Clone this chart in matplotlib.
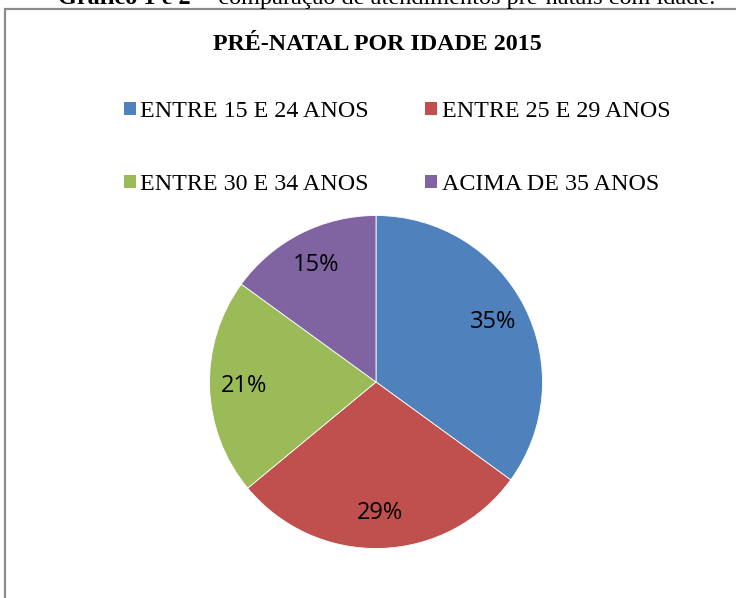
import matplotlib
matplotlib.use("Agg")
import matplotlib.pyplot as plt
from matplotlib.patches import Rectangle, Patch

categories = ["ENTRE 15 E 24 ANOS", "ENTRE 25 E 29 ANOS", "ENTRE 30 E 34 ANOS", "ACIMA DE 35 ANOS"]
values = [35, 29, 21, 15]
colors = ["#4F81BD", "#C0504D", "#9BBB59", "#8064A2"]
title = "PRÉ-NATAL POR IDADE 2015"
caption_bold = "Gráfico 1 e 2"
caption_rest = "– comparação de atendimentos pré-natais com idade."

W, H = 736, 598
fig = plt.figure(figsize=(W / 100, H / 100), dpi=100)
fig.patch.set_facecolor("white")

def fx(px):
    return px / W

def fy(py):
    return 1 - py / H

# chart border (left and top visible, others outside the picture)
top, left = 9, 5
fig.patches.append(Rectangle((fx(left), fy(700)), fx(900), (700 - top) / H,
                             transform=fig.transFigure, fill=False,
                             edgecolor="#8c8c8c", linewidth=1.6))

# caption (partially cut at the top, as in the reference)
fig.text(fx(191), fy(4), caption_bold, ha="right", va="baseline", fontsize=17.5,
         fontweight="bold", family="Liberation Serif", color="black")
fig.text(fx(200), fy(4), caption_rest, ha="left", va="baseline", fontsize=17.5,
         family="Liberation Serif", color="black")

# title
fig.text(fx(377), fy(44), title, ha="center", va="center", fontsize=17.3,
         fontweight="bold", family="Liberation Serif", color="black")

# pie
cx, cy, r = 376, 382, 166.5
ax = fig.add_axes([fx(cx - r), fy(cy + r), 2 * r / W, 2 * r / H])
wedges, texts, autotexts = ax.pie(values, colors=colors, startangle=90, counterclock=False,
                                  autopct="%1.0f%%", pctdistance=0.79, radius=1,
                                  wedgeprops=dict(edgecolor="white", linewidth=0.6))
for t in autotexts:
    t.set_fontsize(17)
    t.set_family("Open Sans")
    t.set_color("black")
ax.set_xlim(-1, 1)
ax.set_ylim(-1, 1)
ax.set_aspect("auto")
ax.axis("off")

# legend: row 1 blue, red; row 2 green, purple
handles = [Patch(facecolor=c, edgecolor="none") for c in colors]
order = [0, 2, 1, 3]
leg = fig.legend([handles[i] for i in order], [categories[i] for i in order], ncol=2,
                 loc="center", bbox_to_anchor=(fx(397), fy(148)), frameon=False,
                 prop=dict(family="Liberation Serif", size=17.3),
                 handlelength=0.5, handleheight=0.5, handletextpad=0.17,
                 labelspacing=2.17, columnspacing=2.37, borderpad=0)

fig.savefig("out.png", dpi=100, facecolor="white")
